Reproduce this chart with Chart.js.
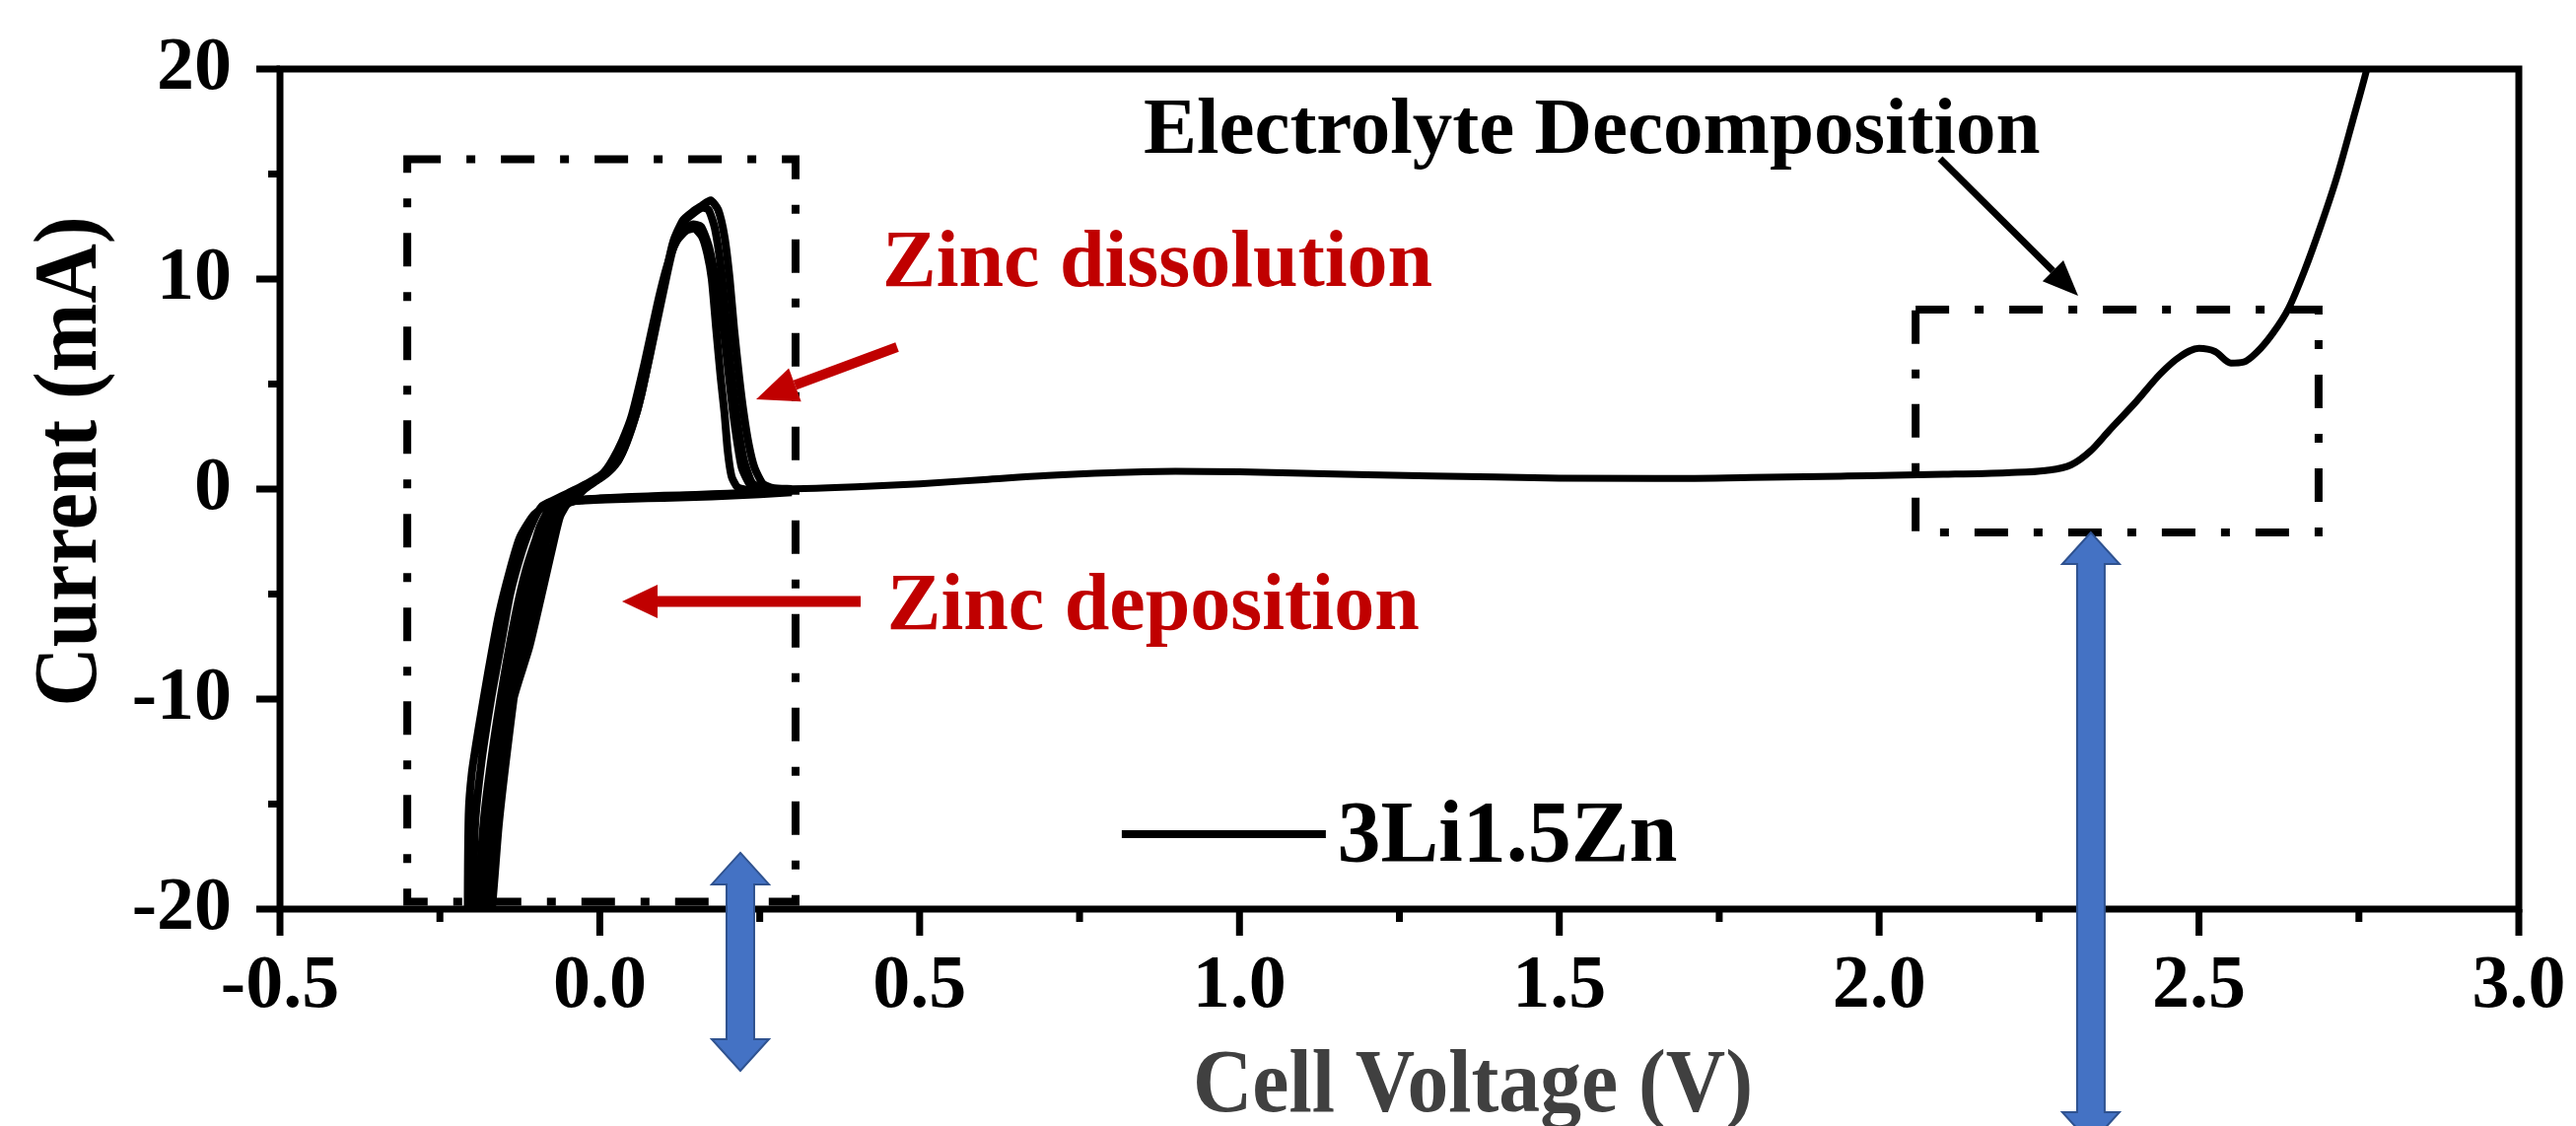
<!DOCTYPE html>
<html>
<head>
<meta charset="utf-8">
<title>3Li1.5Zn</title>
<script src="https://cdn.jsdelivr.net/npm/chart.js@4.4.1/dist/chart.umd.min.js"></script>
<style>
html, body { margin: 0; padding: 0; background: #fff; }
#wrap { width: 2613px; height: 1142px; }
</style>
</head>
<body>
<div id="wrap"><canvas id="cv" width="2613" height="1142"></canvas></div>
<script>
// Axis ticks (labelled majors, minors are put halfway between)
const voltageTicks = [-0.5, 0.0, 0.5, 1.0, 1.5, 2.0, 2.5, 3.0];
const currentTicks = [-20, -10, 0, 10, 20];

// Anodic sweep up to electrolyte decomposition (V / mA)
const sweepVoltage = [0.26, 0.32, 0.40, 0.50, 0.60, 0.70, 0.80, 0.90, 1.00, 1.10, 1.20, 1.35, 1.50, 1.65, 1.80, 1.95, 2.10, 2.20, 2.26, 2.30, 2.33, 2.36, 2.40, 2.44, 2.47, 2.50, 2.525, 2.55, 2.57, 2.59, 2.615, 2.64, 2.665, 2.69, 2.715, 2.74, 2.765, 2.79];
const sweepCurrent = [0.0, 0.02, 0.1, 0.25, 0.45, 0.65, 0.78, 0.85, 0.82, 0.75, 0.68, 0.6, 0.52, 0.5, 0.55, 0.62, 0.7, 0.78, 0.88, 1.15, 1.8, 2.8, 4.1, 5.5, 6.3, 6.7, 6.55, 6.0, 6.05, 6.5, 7.4, 8.6, 10.4, 12.5, 14.8, 17.5, 20.3, 23.5];

// Zinc plating / stripping cycles (cathodic leg then anodic leg)
const cycle1Voltage = [0.30, 0.25, 0.20, 0.15, 0.10, 0.05, 0.00, -0.03, -0.05, -0.062, -0.072, -0.09, -0.11, -0.135, -0.15, -0.165, -0.18,
  -0.172, -0.158, -0.145, -0.128, -0.108, -0.09, -0.075, -0.06, -0.04, -0.02, 0.00, 0.015, 0.03, 0.045, 0.06, 0.08, 0.10, 0.115, 0.13, 0.145, 0.16, 0.173, 0.185, 0.195, 0.203, 0.21, 0.218, 0.225, 0.233, 0.242, 0.255, 0.27, 0.30];
const cycle1Current = [-0.05, -0.15, -0.22, -0.28, -0.32, -0.38, -0.45, -0.52, -0.7, -1.3, -2.5, -4.9, -7.5, -10.0, -13.0, -16.5, -21,
  -21, -16, -12.5, -8.5, -5, -2.8, -1.3, -0.75, -0.45, 0.1, 0.55, 0.9, 1.5, 2.6, 4.0, 6.8, 9.8, 11.8, 12.8, 13.2, 13.5, 13.75, 13.3, 12.0, 10.0, 7.6, 5.3, 3.6, 2.1, 1.0, 0.25, 0.05, 0.0];

const cycle2Voltage = [0.30, 0.25, 0.20, 0.15, 0.10, 0.05, 0.00, -0.03, -0.055, -0.075, -0.095, -0.115, -0.132, -0.15, -0.168, -0.182, -0.192,
  -0.186, -0.175, -0.16, -0.145, -0.128, -0.11, -0.095, -0.08, -0.06, -0.04, -0.02, 0.0, 0.015, 0.03, 0.045, 0.06, 0.08, 0.10, 0.115, 0.13, 0.145, 0.158, 0.17, 0.18, 0.188, 0.195, 0.202, 0.208, 0.215, 0.222, 0.235, 0.25, 0.27, 0.30];
const cycle2Current = [-0.1, -0.2, -0.27, -0.33, -0.37, -0.42, -0.48, -0.53, -0.65, -1.0, -2.0, -3.8, -6.0, -9.0, -12.5, -16, -21,
  -21, -16.5, -12.5, -9.2, -6.2, -3.6, -1.9, -1.0, -0.55, -0.3, 0.15, 0.5, 0.85, 1.4, 2.5, 3.9, 6.6, 9.5, 11.5, 12.3, 12.6, 12.5, 11.6, 10.2, 8.8, 7.2, 5.3, 3.7, 2.2, 1.0, 0.2, 0.0, -0.05, -0.05];

const cycle3Voltage = [0.30, 0.25, 0.20, 0.15, 0.10, 0.05, 0.00, -0.03, -0.06, -0.085, -0.105, -0.125, -0.14, -0.158, -0.175, -0.19, -0.2, -0.205, -0.206,
  -0.2, -0.195, -0.185, -0.17, -0.155, -0.14, -0.122, -0.105, -0.09, -0.07, -0.05, -0.03, -0.012, 0.005, 0.02, 0.035, 0.05, 0.07, 0.09, 0.105, 0.12, 0.135, 0.148, 0.16, 0.168, 0.175, 0.182, 0.189, 0.195, 0.2, 0.206, 0.215, 0.235, 0.27, 0.30];
const cycle3Current = [-0.15, -0.25, -0.32, -0.38, -0.42, -0.46, -0.5, -0.55, -0.6, -0.8, -1.3, -2.3, -3.8, -6.0, -8.8, -11.5, -13.5, -15.5, -21,
  -21, -16, -13, -10, -7.5, -5, -3.0, -1.6, -0.8, -0.5, -0.2, 0.1, 0.4, 0.75, 1.4, 2.3, 3.5, 6.0, 8.8, 10.6, 11.8, 12.3, 12.4, 12.0, 11.2, 10.0, 7.6, 5.3, 3.6, 1.8, 0.6, 0.1, -0.05, -0.1, -0.1];

const cycle4Voltage = [0.30, 0.25, 0.20, 0.15, 0.10, 0.05, 0.00, -0.03, -0.052, -0.068, -0.082, -0.099, -0.118, -0.14, -0.156, -0.172, -0.186,
  -0.18, -0.166, -0.152, -0.138, -0.12, -0.1, -0.085, -0.07, -0.05, -0.03, -0.01, 0.005, 0.02, 0.035, 0.05, 0.065, 0.08, 0.10, 0.115, 0.13, 0.145, 0.16, 0.17, 0.18, 0.19, 0.197, 0.204, 0.211, 0.218, 0.226, 0.238, 0.252, 0.27, 0.30];
const cycle4Current = [-0.08, -0.18, -0.25, -0.3, -0.35, -0.4, -0.46, -0.52, -0.68, -1.2, -2.3, -4.9, -7.5, -10.5, -13.5, -17, -21,
  -21, -16.2, -12.5, -9.0, -5.6, -3.0, -1.6, -0.9, -0.5, -0.1, 0.3, 0.65, 1.0, 1.7, 2.9, 4.5, 6.7, 9.7, 11.7, 12.7, 13.1, 13.4, 13.3, 12.4, 10.4, 8.2, 6.0, 4.2, 2.6, 1.3, 0.3, 0.05, 0.0, -0.02];

const sampleName = '3Li1.5Zn';
const xTitle = 'Cell Voltage (V)';
const yTitle = 'Current (mA)';

const FONT = '"Liberation Serif", "Times New Roman", Times, serif';
const RED = '#c00000';
const BLUE = '#4472c4';

function toPoints(vs, is) {
    return vs.map((v, i) => ({ x: v, y: is[i] }));
}

function isMajor(list, v) {
    return list.some(t => Math.abs(t - v) < 1e-9);
}

// majors plus a minor tick halfway between each pair
function withMinors(list) {
    const out = [];
    list.forEach((v, i) => {
        out.push({ value: v });
        if (i < list.length - 1) out.push({ value: (v + list[i + 1]) / 2 });
    });
    return out;
}

function filledHead(ctx, fx, fy, tx, ty, len, half) {
    const a = Math.atan2(ty - fy, tx - fx);
    const bx = tx - len * Math.cos(a), by = ty - len * Math.sin(a);
    ctx.beginPath();
    ctx.moveTo(tx, ty);
    ctx.lineTo(bx + half * Math.sin(a), by - half * Math.cos(a));
    ctx.lineTo(bx - half * Math.sin(a), by + half * Math.cos(a));
    ctx.closePath();
    ctx.fill();
    return [bx, by];
}

function arrow(ctx, fx, fy, tx, ty, color, width, len, half) {
    ctx.strokeStyle = color;
    ctx.fillStyle = color;
    ctx.lineWidth = width;
    ctx.lineCap = 'butt';
    const [bx, by] = filledHead(ctx, fx, fy, tx, ty, len, half);
    ctx.beginPath();
    ctx.moveTo(fx, fy);
    ctx.lineTo(bx, by);
    ctx.stroke();
}

function doubleArrow(ctx, x, yt, yb) {
    const sw = 14, hw = 29, hl = 32;
    ctx.beginPath();
    ctx.moveTo(x, yt);
    ctx.lineTo(x + hw, yt + hl);
    ctx.lineTo(x + sw, yt + hl);
    ctx.lineTo(x + sw, yb - hl);
    ctx.lineTo(x + hw, yb - hl);
    ctx.lineTo(x, yb);
    ctx.lineTo(x - hw, yb - hl);
    ctx.lineTo(x - sw, yb - hl);
    ctx.lineTo(x - sw, yt + hl);
    ctx.lineTo(x - hw, yt + hl);
    ctx.closePath();
    ctx.fillStyle = BLUE;
    ctx.fill();
    ctx.strokeStyle = '#2f528f';
    ctx.lineWidth = 2;
    ctx.stroke();
}

// text squeezed along its own direction to a given length
function squeezedText(ctx, text, x, y, rot, size, length, color) {
    ctx.save();
    ctx.font = `bold ${size}px ${FONT}`;
    ctx.fillStyle = color;
    ctx.textAlign = 'center';
    ctx.textBaseline = 'alphabetic';
    ctx.translate(x, y);
    ctx.rotate(rot);
    ctx.scale(length / ctx.measureText(text).width, 1);
    ctx.fillText(text, 0, 0);
    ctx.restore();
}

// frame, ticks, axis titles, dash-dot boxes, labels and arrows
const annotate = {
    id: 'annotate',
    afterDraw(chart) {
        const { ctx, chartArea: a, scales: { x, y } } = chart;
        const px = v => x.getPixelForValue(v);
        const py = v => y.getPixelForValue(v);
        ctx.save();

        // dash-dot boxes
        ctx.strokeStyle = '#000';
        ctx.lineWidth = 8;
        ctx.setLineDash([34, 26, 9, 26]);
        [[-0.301, 0.306, -19.65, 15.7], [2.057, 2.687, -2.07, 8.55]].forEach(b => {
            ctx.strokeRect(px(b[0]), py(b[3]), px(b[1]) - px(b[0]), py(b[2]) - py(b[3]));
        });
        ctx.setLineDash([]);

        // frame
        ctx.lineWidth = 7;
        ctx.strokeRect(a.left, a.top, a.right - a.left, a.bottom - a.top);

        // ticks
        ctx.beginPath();
        x.ticks.forEach(t => {
            const p = px(t.value);
            const len = isMajor(voltageTicks, t.value) ? 27 : 13;
            ctx.moveTo(p, a.bottom);
            ctx.lineTo(p, a.bottom + len);
        });
        y.ticks.forEach(t => {
            const p = py(t.value);
            const len = isMajor(currentTicks, t.value) ? 24 : 12;
            ctx.moveTo(a.left, p);
            ctx.lineTo(a.left - len, p);
        });
        ctx.stroke();

        // axis titles
        squeezedText(ctx, xTitle, 1494, 1127, 0, 91, 568, '#404040');
        squeezedText(ctx, yTitle, 97, 468, -Math.PI / 2, 92, 497, '#000');

        // legend
        ctx.lineWidth = 8;
        ctx.beginPath();
        ctx.moveTo(px(0.816), py(-16.43));
        ctx.lineTo(px(1.135), py(-16.43));
        ctx.stroke();
        ctx.fillStyle = '#000';
        ctx.textBaseline = 'alphabetic';
        ctx.font = `bold 88px ${FONT}`;
        ctx.fillText(chart.data.datasets[0].label, px(1.153), py(-17.7));

        // annotation texts
        ctx.font = `bold 81px ${FONT}`;
        ctx.fillText('Electrolyte Decomposition', px(0.85), py(16.0));
        ctx.fillStyle = RED;
        ctx.font = `bold 82px ${FONT}`;
        ctx.fillText('Zinc dissolution', px(0.4416), py(9.67));
        ctx.fillText('Zinc deposition', px(0.449), py(-6.67));

        // arrows
        arrow(ctx, px(0.4648), py(6.76), px(0.2444), py(4.27), RED, 10, 42, 18);
        arrow(ctx, px(0.4078), py(-5.35), px(0.0348), py(-5.35), RED, 11, 36, 17);
        arrow(ctx, px(2.0953), py(15.73), px(2.3111), py(9.2), '#000', 7, 36, 15);

        doubleArrow(ctx, px(0.2197), py(-17.32), py(-27.7));
        doubleArrow(ctx, px(2.331), py(-2.07), py(-31.17));

        ctx.restore();
    }
};

const lineStyle = {
    borderColor: '#000',
    borderWidth: 8,
    pointRadius: 0,
    fill: false
};

new Chart(document.getElementById('cv'), {
    type: 'line',
    data: {
        datasets: [
            { ...lineStyle, label: sampleName, data: toPoints(sweepVoltage, sweepCurrent), cubicInterpolationMode: 'monotone', borderWidth: 7 },
            { ...lineStyle, label: sampleName, data: toPoints(cycle1Voltage, cycle1Current), tension: 0.2 },
            { ...lineStyle, label: sampleName, data: toPoints(cycle4Voltage, cycle4Current), tension: 0.2 },
            { ...lineStyle, label: sampleName, data: toPoints(cycle2Voltage, cycle2Current), tension: 0.2 },
            { ...lineStyle, label: sampleName, data: toPoints(cycle3Voltage, cycle3Current), tension: 0.2 }
        ]
    },
    options: {
        responsive: false,
        animation: false,
        events: [],
        devicePixelRatio: 1,
        layout: { padding: { left: 0, right: 58, top: 70, bottom: 0 } },
        plugins: {
            legend: { display: false },
            tooltip: { enabled: false }
        },
        scales: {
            x: {
                type: 'linear',
                min: -0.5,
                max: 3.0,
                grid: { display: false, drawTicks: false },
                border: { display: false },
                afterBuildTicks: s => { s.ticks = withMinors(voltageTicks); },
                afterFit: s => {
                    s.height = 220;
                    s.paddingLeft = 0;
                    s.paddingRight = 0;
                },
                ticks: {
                    autoSkip: false,
                    maxRotation: 0,
                    padding: 34,
                    color: '#000',
                    font: { family: FONT, size: 76, weight: 'bold' },
                    callback: v => isMajor(voltageTicks, v) ? v.toFixed(1) : ''
                },
                title: { display: false, text: xTitle }
            },
            y: {
                type: 'linear',
                min: -20,
                max: 20,
                grid: { display: false, drawTicks: false },
                border: { display: false },
                afterBuildTicks: s => { s.ticks = withMinors(currentTicks); },
                afterFit: s => {
                    s.width = 284;
                    s.paddingTop = 0;
                    s.paddingBottom = 0;
                },
                ticks: {
                    autoSkip: false,
                    padding: 49,
                    color: '#000',
                    font: { family: FONT, size: 76, weight: 'bold' },
                    callback: v => isMajor(currentTicks, v) ? String(v) : ''
                },
                title: { display: false, text: yTitle }
            }
        }
    },
    plugins: [annotate]
});
</script>
</body>
</html>
